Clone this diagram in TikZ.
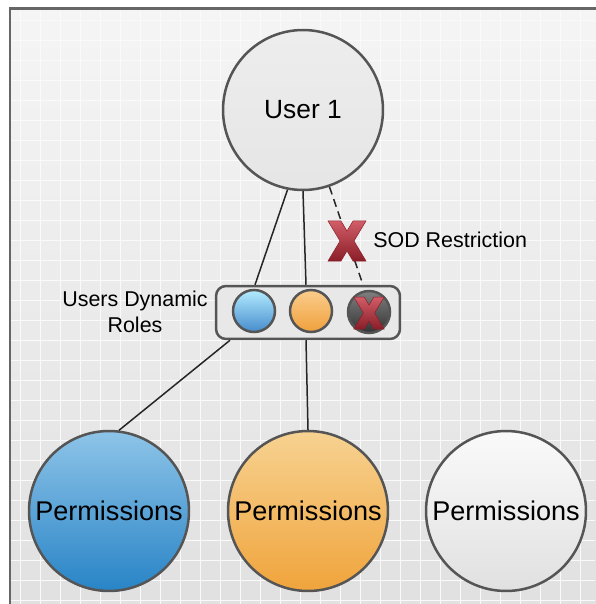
\documentclass[tikz,border=0pt]{standalone}
\usepackage{fontspec}
\setmainfont{Liberation Sans}
\usetikzlibrary{calc}
\definecolor{edge}{HTML}{555555}
\definecolor{xred}{HTML}{C8404C}
\definecolor{xdark}{HTML}{8A1E28}
\tikzset{
  px/.style={x=0.02cm,y=-0.02cm},
  bigcirc/.style={circle,draw=edge,line width=0.05cm,inner sep=0pt,minimum size=3.2cm,shading=axis,font=\fontsize{15.4}{18}\selectfont},
  smallcirc/.style={circle,draw=edge,line width=0.05cm,inner sep=0pt,minimum size=0.84cm,shading=axis},
  conn/.style={draw=black!85,line width=0.03cm},
  lbl/.style={font=\fontsize{12.2}{15}\selectfont,align=center,inner sep=0pt},
}
\newcommand{\redX}[3]{% x y scale
  \begin{scope}[shift={(#1,#2)},scale=#3]
  \shade[top color=xred!85!white,bottom color=xdark,draw=xdark,line width=0.01cm]
   (-19,-20) -- (-6,-20) -- (0,-10) -- (6,-20) -- (19,-20) -- (7,0) -- (19,20) -- (6,20) -- (0,10) -- (-6,20) -- (-19,20) -- (-7,0) -- cycle;
  \end{scope}}
\begin{document}
\begin{tikzpicture}[px]
\useasboundingbox (0,0) rectangle (595,604);
\fill[white] (0,0) rectangle (595,604);
% frame
\shade[top color=black!4,bottom color=black!12] (10,9) rectangle (600,610);
\foreach \x in {20,40,...,590} \draw[black!2,line width=0.01cm] (\x,10) -- (\x,604);
\foreach \y in {20,40,...,600} \draw[black!2,line width=0.01cm] (11,\y) -- (595,\y);
\draw[black!60,line width=0.06cm] (10,610) -- (10,9) -- (600,9);
% user
\node[bigcirc,top color=black!7,bottom color=black!10,font=\fontsize{15}{18}\selectfont] (user) at (303,110) {User 1};
% roles box
\node[draw=edge,line width=0.05cm,rounded corners=0.2cm,fill=black!9,minimum width=3.68cm,minimum height=1.06cm,inner sep=0pt] (box) at (308,312.5) {};
\node[smallcirc,top color=blue!25!cyan!30!white,bottom color={rgb,255:red,70;green,140;blue,205}] (rb) at (254,311) {};
\node[smallcirc,top color={rgb,255:red,250;green,205;blue,140},bottom color={rgb,255:red,240;green,160;blue,60}] (ro) at (311,311) {};
\node[smallcirc,top color=black!50,bottom color=black!80] (rx) at (369,312) {};
\redX{369}{313}{0.8}
% labels
\node[lbl] (rl) at (135,312) {Users Dynamic\\Roles};
% connectors
\draw[conn] (user.259) -- ([xshift=-1.06cm]box.north);
\draw[conn] (user.270) -- ([xshift=-0.04cm]box.north);
\draw[conn,dashed,dash pattern=on 0.16cm off 0.1cm] (user.289) -- ([xshift=1.1cm]box.north);
\redX{347}{241}{1}
\node[lbl,anchor=west] (sod) at (373,240) {SOD Restriction};
% permissions
\node[bigcirc,top color={rgb,255:red,142;green,196;blue,232},bottom color={rgb,255:red,40;green,132;blue,198}] (p1) at (109,511) {Permissions};
\node[bigcirc,top color={rgb,255:red,247;green,210;blue,145},bottom color={rgb,255:red,240;green,164;blue,60}] (p2) at (308,511) {Permissions};
\node[bigcirc,top color=black!2,bottom color=black!12] (p3) at (506,511) {Permissions};
\draw[conn] ([xshift=-1.56cm]box.south) -- (p1.83);
\draw[conn] ([xshift=-0.04cm]box.south) -- (p2.90);
\end{tikzpicture}
\end{document}
